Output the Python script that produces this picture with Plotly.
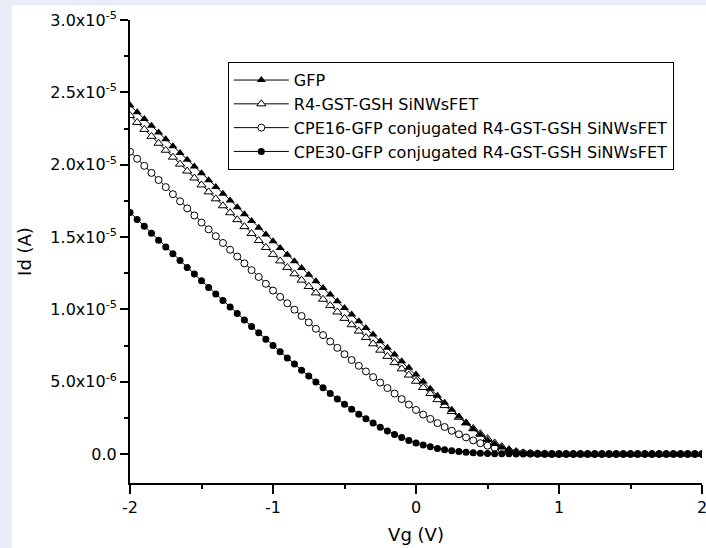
import plotly.graph_objects as go

# Gate voltage sweep (V)
vg = [round(-2 + 0.05 * i, 2) for i in range(81)]

SCALE = 1e-5  # values below are in units of 1e-5 A

gfp = [2.410, 2.363, 2.316, 2.269, 2.222, 2.175, 2.128, 2.081, 2.034, 1.987,
       1.940, 1.893, 1.846, 1.799, 1.752, 1.705, 1.658, 1.611, 1.564, 1.517,
       1.470, 1.424, 1.378, 1.332, 1.286, 1.240, 1.194, 1.148, 1.102, 1.056,
       1.010, 0.964, 0.918, 0.872, 0.826, 0.780, 0.734, 0.688, 0.642, 0.596,
       0.550, 0.501, 0.452, 0.403, 0.355, 0.307, 0.260, 0.215, 0.172, 0.133,
       0.098, 0.069, 0.045, 0.028, 0.015, 0.007, 0.003, 0.0015, 0.0008, 0.0005,
       0.0003, 0.0003, 0.0003, 0.0003, 0.0003, 0.0003, 0.0003, 0.0003, 0.0003, 0.0003,
       0.0003, 0.0003, 0.0003, 0.0003, 0.0003, 0.0003, 0.0003, 0.0003, 0.0003, 0.0003,
       0.0003]

r4 = [2.340, 2.292, 2.244, 2.196, 2.148, 2.100, 2.052, 2.004, 1.956, 1.908,
      1.860, 1.812, 1.764, 1.716, 1.668, 1.620, 1.572, 1.524, 1.476, 1.428,
      1.380, 1.335, 1.290, 1.246, 1.202, 1.158, 1.114, 1.070, 1.026, 0.982,
      0.938, 0.894, 0.850, 0.806, 0.762, 0.718, 0.675, 0.632, 0.589, 0.546,
      0.503, 0.460, 0.418, 0.376, 0.335, 0.294, 0.254, 0.215, 0.177, 0.141,
      0.107, 0.077, 0.051, 0.031, 0.017, 0.008, 0.004, 0.002, 0.001, 0.0005,
      0.0003, 0.0003, 0.0003, 0.0003, 0.0003, 0.0003, 0.0003, 0.0003, 0.0003, 0.0003,
      0.0003, 0.0003, 0.0003, 0.0003, 0.0003, 0.0003, 0.0003, 0.0003, 0.0003, 0.0003,
      0.0003]

cpe16 = [2.090, 2.041, 1.992, 1.943, 1.894, 1.845, 1.796, 1.747, 1.698, 1.649,
         1.600, 1.553, 1.506, 1.459, 1.412, 1.365, 1.318, 1.271, 1.224, 1.177,
         1.130, 1.086, 1.042, 0.998, 0.954, 0.910, 0.866, 0.822, 0.778, 0.734,
         0.690, 0.650, 0.610, 0.571, 0.532, 0.494, 0.456, 0.418, 0.380, 0.342,
         0.305, 0.273, 0.243, 0.214, 0.187, 0.161, 0.137, 0.115, 0.094, 0.075,
         0.058, 0.043, 0.030, 0.020, 0.012, 0.007, 0.004, 0.002, 0.001, 0.0005,
         0.0003, 0.0003, 0.0003, 0.0003, 0.0003, 0.0003, 0.0003, 0.0003, 0.0003, 0.0003,
         0.0003, 0.0003, 0.0003, 0.0003, 0.0003, 0.0003, 0.0003, 0.0003, 0.0003, 0.0003,
         0.0003]

cpe30 = [1.670, 1.622, 1.574, 1.526, 1.478, 1.431, 1.384, 1.337, 1.290, 1.244,
         1.198, 1.152, 1.106, 1.061, 1.016, 0.971, 0.926, 0.882, 0.838, 0.794,
         0.750, 0.707, 0.664, 0.622, 0.580, 0.539, 0.498, 0.458, 0.419, 0.381,
         0.344, 0.309, 0.276, 0.244, 0.214, 0.186, 0.160, 0.136, 0.114, 0.094,
         0.077, 0.062, 0.050, 0.039, 0.030, 0.023, 0.017, 0.013, 0.009, 0.006,
         0.004, 0.003, 0.002, 0.0015, 0.001, 0.0008, 0.0006, 0.0005, 0.0004, 0.0003,
         0.0003, 0.0003, 0.0003, 0.0003, 0.0003, 0.0003, 0.0003, 0.0003, 0.0003, 0.0003,
         0.0003, 0.0003, 0.0003, 0.0003, 0.0003, 0.0003, 0.0003, 0.0003, 0.0003, 0.0003,
         0.0003]

names = ["GFP",
         "R4-GST-GSH SiNWsFET",
         "CPE16-GFP conjugated R4-GST-GSH SiNWsFET",
         "CPE30-GFP conjugated R4-GST-GSH SiNWsFET"]

y_tickvals = [0, 5e-6, 1e-5, 1.5e-5, 2e-5, 2.5e-5, 3e-5]
y_ticktext = ["0.0", "5.0x10<sup>-6</sup>", "1.0x10<sup>-5</sup>", "1.5x10<sup>-5</sup>",
              "2.0x10<sup>-5</sup>", "2.5x10<sup>-5</sup>", "3.0x10<sup>-5</sup>"]
x_tickvals = [-2, -1, 0, 1, 2]
x_ticktext = ["-2", "-1", "0", "1", "2"]

FONT = "DejaVu Sans, Arial, sans-serif"

fig = go.Figure()

# draw order: R4, CPE16, GFP, CPE30 (legend order fixed via legendrank)
series = [
    (r4, names[1], dict(symbol="triangle-up", size=8, color="white",
                        line=dict(color="black", width=1)), 2),
    (cpe16, names[2], dict(symbol="circle", size=7, color="white",
                           line=dict(color="black", width=1)), 3),
    (gfp, names[0], dict(symbol="triangle-up", size=8, color="black",
                         line=dict(color="black", width=0)), 1),
    (cpe30, names[3], dict(symbol="circle", size=7, color="black",
                           line=dict(color="black", width=0)), 4),
]
for vals, nm, mk, rank in series:
    fig.add_trace(go.Scatter(
        x=vg, y=[v * SCALE for v in vals], name=nm, mode="lines+markers",
        line=dict(color="black", width=1), marker=mk, legendrank=rank))

fig.update_layout(
    width=706, height=548,
    paper_bgcolor="#e8edf7",
    plot_bgcolor="white",
    margin=dict(l=130, r=4, t=20, b=65),
    font=dict(family=FONT, size=16, color="black"),
    showlegend=True,
    legend=dict(x=0.171, y=0.909, xanchor="left", yanchor="top",
                bgcolor="white", bordercolor="black", borderwidth=1,
                font=dict(size=16, family=FONT), tracegroupgap=0,
                itemwidth=55),
    shapes=[dict(type="rect", xref="paper", yref="paper",
                 x0=-0.2063, x1=1.2, y0=-0.2, y1=1.0324,
                 fillcolor="white", line=dict(width=0), layer="below")],
)

fig.update_xaxes(
    range=[-2, 2], tickmode="array", tickvals=x_tickvals, ticktext=x_ticktext,
    ticks="outside", ticklen=9, tickwidth=2, tickcolor="black",
    showline=True, linewidth=2, linecolor="black", automargin=False,
    showgrid=False, zeroline=False, ticklabeloverflow="allow",
    minor=dict(ticks="outside", ticklen=4, tickwidth=1.5, tickcolor="black",
               tick0=-2, dtick=0.5),
    title=dict(text="Vg (V)", font=dict(size=18), standoff=12),
    tickfont=dict(size=16),
)
fig.update_yaxes(
    range=[-2e-6, 3e-5], tickmode="array", tickvals=y_tickvals, ticktext=y_ticktext,
    ticks="outside", ticklen=8, tickwidth=2, tickcolor="black",
    showline=True, linewidth=2, linecolor="black", automargin=False,
    showgrid=False, zeroline=False,
    minor=dict(ticks="outside", ticklen=4, tickwidth=1.5, tickcolor="black",
               tick0=0, dtick=2.5e-6),
    title=dict(text="Id (A)", font=dict(size=18), standoff=14),
    tickfont=dict(size=16),
)

fig.write_html(
    "out.html",
    config={"displayModeBar": False},
    post_script="document.body.style.margin='0';document.body.style.overflow='hidden';",
)
